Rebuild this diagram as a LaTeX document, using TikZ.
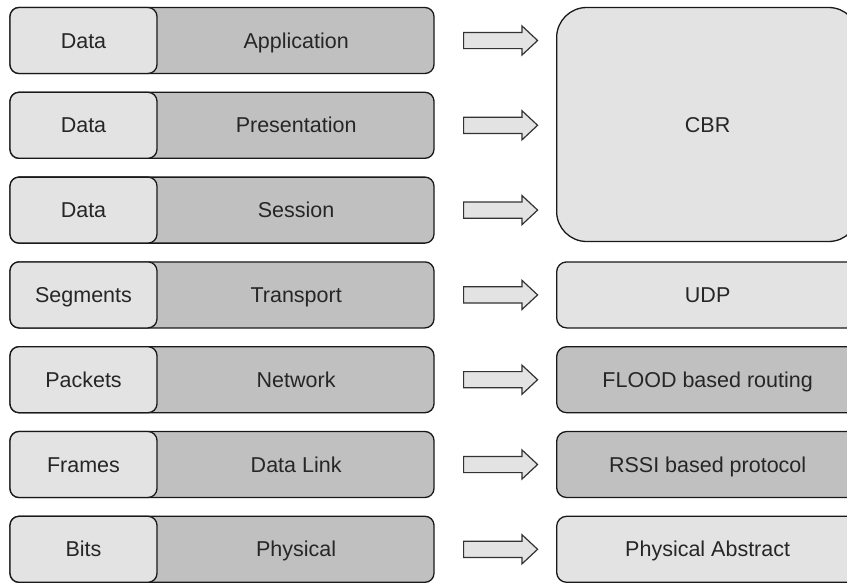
\documentclass[tikz,border=0pt]{standalone}
\usepackage{fontspec}
\setmainfont{Liberation Sans}
\usetikzlibrary{shapes.arrows, calc}
\definecolor{layergray}{HTML}{C0C0C0}
\definecolor{unitgray}{HTML}{E3E3E3}

\begin{document}
\begin{tikzpicture}[x=1pt, y=-1pt,
    every node/.style={font=\fontsize{21.5}{24}\selectfont, text=black!85, text height=15pt, text depth=0pt},
    layer/.style={draw=black!90, line width=1.3pt, fill=layergray, rounded corners=9pt, minimum width=424pt, minimum height=66pt, inner sep=0pt},
    unit/.style={draw=black!90, line width=1.3pt, fill=unitgray, rounded corners=9pt, minimum width=147pt, minimum height=66pt, inner sep=0pt, anchor=west},
    proto/.style={draw=black!90, line width=1.3pt, rounded corners=10pt, minimum width=302pt, minimum height=66pt, inner sep=0pt, anchor=north west},
    blockarrow/.style={single arrow, draw=black!80, line width=1.2pt, fill=unitgray, minimum height=74pt, text height=0pt, text depth=0pt, inner xsep=0pt, inner ysep=7.5pt, single arrow head extend=6.5pt, single arrow tip angle=86, anchor=tail}]
    \useasboundingbox (0,0) rectangle (847,582);
    \clip (0,0) rectangle (847,582);

    % OSI layers with their data units
    \foreach \name/\unit/\layer [count=\i from 0] in {app/Data/Application, pre/Data/Presentation, ses/Data/Session, tra/Segments/Transport, net/Packets/Network, dat/Frames/Data Link, phy/Bits/Physical} {
        \node[layer] (\name) at (222, 40.5+84.8*\i) {};
        \node[unit] (\name-u) at (\name.west) {\unit};
        \node (\name-t) at ($(\name-u.east)!0.5!(\name.east)$) {\layer};
        \node[blockarrow] (\name-a) at (463, 40.5+84.8*\i) {};
    }

    % Protocols used in the stack
    \node[proto, fill=unitgray, minimum height=234pt, rounded corners=30pt] (cbr) at (556,0 |- app.north) {CBR};
    \node[proto, fill=unitgray] (udp) at (556,0 |- tra.north) {UDP};
    \node[proto, fill=layergray] (flood) at (556,0 |- net.north) {FLOOD based routing};
    \node[proto, fill=layergray] (rssi) at (556,0 |- dat.north) {RSSI based protocol};
    \node[proto, fill=unitgray] (phyabs) at (556,0 |- phy.north) {Physical Abstract};

\end{tikzpicture}
\end{document}
